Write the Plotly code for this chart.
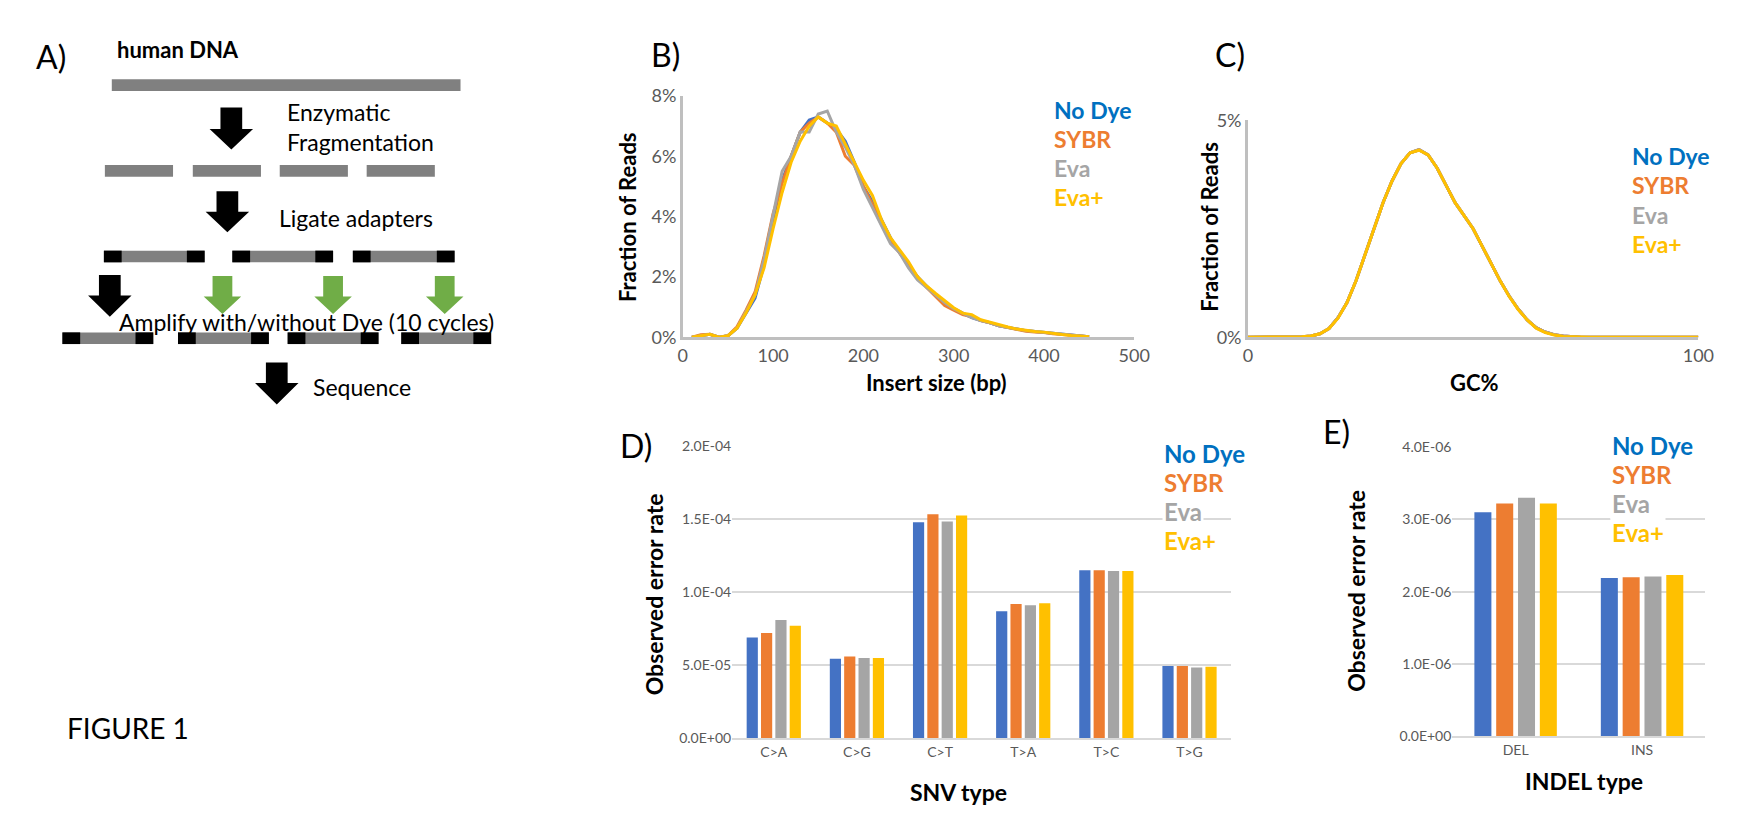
import plotly.graph_objects as go

# ---------------- data ----------------
insert_size = [10,20,30,40,50,60,70,80,90,100,110,120,130,140,150,160,170,180,190,200,210,220,230,240,250,
               260,270,280,290,300,310,320,330,340,350,360,370,380,390,400,410,420,430,440,450]
ins_nodye = [0,0.05,0.1,0,0.05,0.3,0.8,1.3,2.4,3.9,5.2,6.0,6.8,7.2,7.3,7.1,6.9,6.5,5.8,5.0,4.5,3.9,3.3,2.8,2.4,
             2.0,1.7,1.4,1.15,0.95,0.8,0.65,0.55,0.48,0.38,0.32,0.26,0.22,0.19,0.16,0.12,0.09,0.06,0.04,0.02]
ins_sybr  = [0,0.08,0.1,0,0.05,0.35,0.9,1.5,2.7,4.1,5.1,6.0,6.8,7.1,7.3,7.1,6.8,6.0,5.7,5.0,4.4,3.8,3.2,2.8,2.4,
             2.0,1.65,1.35,1.05,0.9,0.75,0.68,0.55,0.48,0.38,0.32,0.26,0.2,0.17,0.16,0.12,0.09,0.06,0.04,0.02]
ins_eva   = [0,0.05,0.1,0,0.05,0.3,0.85,1.4,2.6,4.1,5.5,6.0,6.8,6.8,7.4,7.5,6.8,6.3,5.7,4.9,4.3,3.7,3.1,2.8,2.3,
             1.9,1.65,1.4,1.15,0.95,0.8,0.65,0.55,0.48,0.38,0.32,0.26,0.22,0.19,0.16,0.12,0.09,0.06,0.04,0.02]
ins_evap  = [0,0.05,0.1,0,0.05,0.3,0.8,1.4,2.3,3.6,4.8,5.8,6.5,7.0,7.3,7.1,7.0,6.4,5.8,5.2,4.7,3.9,3.3,2.9,2.5,
             2.0,1.7,1.45,1.2,0.98,0.8,0.75,0.58,0.5,0.4,0.34,0.27,0.22,0.19,0.17,0.12,0.09,0.06,0.04,0.02]

gc_pct = [0,2,4,6,8,10,12,14,16,18,20,22,24,26,28,30,32,34,36,38,40,42,44,46,48,50,52,54,56,58,60,62,64,66,
          68,70,72,74,76,78,80,84,88,92,96,100]
gc_nodye = [0,0,0,0,0,0,0.01,0.03,0.08,0.2,0.45,0.8,1.3,1.9,2.5,3.1,3.6,4.0,4.25,4.32,4.2,3.9,3.5,3.1,2.8,
            2.5,2.1,1.7,1.3,0.95,0.65,0.4,0.22,0.12,0.06,0.03,0.01,0,0,0,0,0,0,0,0,0]
gc_sybr = list(gc_nodye)
gc_eva = list(gc_nodye)
gc_evap = [0,0,0,0,0,0,0.01,0.03,0.08,0.2,0.44,0.8,1.3,1.9,2.5,3.1,3.6,4.0,4.25,4.31,4.2,3.9,3.5,3.1,2.8,
           2.5,2.1,1.7,1.3,0.94,0.64,0.4,0.21,0.11,0.05,0.02,0.01,0,0,0,0,0,0,0,0,0]

snv_types = ["C>A", "C>G", "C>T", "T>A", "T>C", "T>G"]
snv_nodye = [6.9e-5, 5.45e-5, 14.8e-5, 8.7e-5, 11.5e-5, 4.95e-5]
snv_sybr  = [7.2e-5, 5.6e-5, 15.35e-5, 9.2e-5, 11.5e-5, 4.95e-5]
snv_eva   = [8.1e-5, 5.5e-5, 14.85e-5, 9.1e-5, 11.45e-5, 4.85e-5]
snv_evap  = [7.7e-5, 5.5e-5, 15.25e-5, 9.25e-5, 11.45e-5, 4.9e-5]

indel_types = ["DEL", "INS"]
indel_nodye = [3.1e-6, 2.19e-6]
indel_sybr  = [3.22e-6, 2.2e-6]
indel_eva   = [3.3e-6, 2.21e-6]
indel_evap  = [3.22e-6, 2.23e-6]

series_names = ["No Dye", "SYBR", "Eva", "Eva+"]
y_ticks_d = [0, 5e-5, 1e-4, 1.5e-4, 2e-4]
y_tick_labels_d = ["0.0E+00", "5.0E-05", "1.0E-04", "1.5E-04", "2.0E-04"]
y_ticks_e = [0, 1e-6, 2e-6, 3e-6, 4e-6]
y_tick_labels_e = ["0.0E+00", "1.0E-06", "2.0E-06", "3.0E-06", "4.0E-06"]

# ---------------- style ----------------
W, H = 1737.0, 820.0
def X(x): return x / W
def Y(y): return 1 - y / H

COL = ["#4472C4", "#ED7D31", "#A5A5A5", "#FFC000"]
LEG = ["#0070C0", "#ED7D31", "#A5A5A5", "#FFC000"]
FONT = "Lato"
TICK = "#595959"

fig = go.Figure()
for vals, c, n in zip([ins_nodye, ins_sybr, ins_eva, ins_evap], COL, series_names):
    fig.add_trace(go.Scatter(x=insert_size, y=[v / 100 for v in vals], mode="lines",
                             line=dict(color=c, width=3), name=n, xaxis="x", yaxis="y"))
for vals, c, n in zip([gc_nodye, gc_sybr, gc_eva, gc_evap], COL, series_names):
    fig.add_trace(go.Scatter(x=gc_pct, y=[v / 100 for v in vals], mode="lines",
                             line=dict(color=c, width=3), name=n, xaxis="x2", yaxis="y2"))
for vals, c, n in zip([snv_nodye, snv_sybr, snv_eva, snv_evap], COL, series_names):
    fig.add_trace(go.Bar(x=snv_types, y=vals, marker=dict(color=c, line=dict(width=0)),
                         name=n, xaxis="x3", yaxis="y3"))
for vals, c, n in zip([indel_nodye, indel_sybr, indel_eva, indel_evap], COL, series_names):
    fig.add_trace(go.Bar(x=indel_types, y=vals, marker=dict(color=c, line=dict(width=0)),
                         name=n, xaxis="x4", yaxis="y4"))

tickf = dict(family=FONT, size=18, color=TICK)
smallf = dict(family=FONT, size=14, color=TICK)
axline = dict(showline=True, linecolor="#BFBFBF", linewidth=2.5, showgrid=False, zeroline=False,
              ticks="", tickfont=tickf)

layout = dict(
    width=1737, height=820, margin=dict(l=0, r=0, t=0, b=0),
    paper_bgcolor="white", plot_bgcolor="white", showlegend=False,
    barmode="group", bargap=0.31, bargroupgap=0.22,
    xaxis=dict(domain=[X(678), X(1135)], range=[0, 500], dtick=100, **axline),
    yaxis=dict(domain=[Y(326), Y(78)], range=[0, 0.08], dtick=0.02, tickformat=".0%", **axline),
    xaxis2=dict(domain=[X(1250), X(1706)], range=[0, 100], tickvals=[0, 100], anchor="y2", **axline),
    yaxis2=dict(domain=[Y(326), Y(103)], range=[0, 0.05], tickvals=[0, 0.05], tickformat=".0%",
                anchor="x2", **axline),
    xaxis3=dict(domain=[X(728), X(1233)], anchor="y3", showline=True, linecolor="#D9D9D9", linewidth=2,
                showgrid=False, ticks="", tickfont=smallf),
    yaxis3=dict(domain=[Y(738), Y(438)], range=[0, 2e-4], tickvals=y_ticks_d, ticktext=y_tick_labels_d,
                anchor="x3", showgrid=True, gridcolor="#D9D9D9", gridwidth=2, zeroline=False,
                showline=False, ticks="", tickfont=smallf),
    xaxis4=dict(domain=[X(1457), X(1713)], anchor="y4", showline=True, linecolor="#D9D9D9", linewidth=2,
                showgrid=False, ticks="", tickfont=smallf),
    yaxis4=dict(domain=[Y(736), Y(439)], range=[0, 4e-6], tickvals=y_ticks_e, ticktext=y_tick_labels_e,
                anchor="x4", showgrid=True, gridcolor="#D9D9D9", gridwidth=2, zeroline=False,
                showline=False, ticks="", tickfont=smallf),
)
fig.update_layout(**layout)

ann = []
def txt(x, y, t, size, color="black", bold=False, xanchor="left", angle=0, bg=None):
    d = dict(x=X(x), y=Y(y), xref="paper", yref="paper", text=("<b>%s</b>" % t) if bold else t,
             showarrow=False, xanchor=xanchor, yanchor="middle", textangle=angle,
             font=dict(family=FONT, size=size, color=color))
    if bg:
        d["bgcolor"] = bg
    ann.append(d)

# panel letters
txt(38, 37, "A)", 32, xanchor="center"); txt(660, 35, "B)", 32, xanchor="center")
txt(1232, 35, "C)", 32, xanchor="center")
txt(631, 437, "D)", 32, xanchor="center"); txt(1340, 423, "E)", 32, xanchor="center")
txt(53, 728, "FIGURE 1", 28)

# axis titles
txt(622, 202, "Fraction of Reads", 22, bold=True, xanchor="center", angle=-90)
txt(935, 372, "Insert size (bp)", 22, bold=True, xanchor="center")
txt(1211, 212, "Fraction of Reads", 22, bold=True, xanchor="center", angle=-90)
txt(1479, 372, "GC%", 22, bold=True, xanchor="center")
txt(649, 590, "Observed error rate", 23, bold=True, xanchor="center", angle=-90)
txt(957, 793, "SNV type", 23, bold=True, xanchor="center")
txt(1360, 587, "Observed error rate", 23, bold=True, xanchor="center", angle=-90)
txt(1590, 782, "INDEL type", 23, bold=True, xanchor="center")

# legends
for i, (n, c) in enumerate(zip(series_names, LEG)):
    txt(1052, 92 + 30 * i, n, 23, color=c, bold=True)
    txt(1637, 140 + 30 * i, n, 23, color=c, bold=True)
    txt(1163, 445 + 30 * i, n, 24, color=c, bold=True, bg="white")
    txt(1617, 437 + 30 * i, n, 24, color=c, bold=True, bg="white")

# panel A texts
txt(103, 30, "human DNA", 22, bold=True)
txt(275, 95, "Enzymatic", 23); txt(275, 125, "Fragmentation", 23)
txt(267, 203, "Ligate adapters", 23)
txt(105, 310, "Amplify with/without Dye (10 cycles)", 23)
txt(302, 377, "Sequence", 23)
fig.update_layout(annotations=ann)

shapes = []
GRAY = "#808080"
def bar(x0, x1, y, h=12, color=GRAY):
    shapes.append(dict(type="rect", xref="paper", yref="paper", x0=X(x0), x1=X(x1),
                       y0=Y(y + h / 2), y1=Y(y - h / 2), fillcolor=color, line=dict(width=0)))
def frag(x0, x1, y):
    bar(x0, x1, y)
    bar(x0, x0 + 18, y, color="black"); bar(x1 - 18, x1, y, color="black")
def arrow(cx, y0, yh, y1, color, hw=22, sw=11):
    pts = [(cx - sw, y0), (cx + sw, y0), (cx + sw, yh), (cx + hw, yh), (cx, y1), (cx - hw, yh), (cx - sw, yh)]
    path = "M " + " L ".join("%f,%f" % (X(px), Y(py)) for px, py in pts) + " Z"
    shapes.append(dict(type="path", xref="paper", yref="paper", path=path, fillcolor=color,
                       line=dict(width=0)))

bar(100, 453, 67)
arrow(221, 90, 112, 133, "black")
for a, b in [(93, 162), (182, 251), (270, 339), (358, 427)]:
    bar(a, b, 155)
arrow(217, 176, 197, 218, "black")
for a, b in [(92, 194), (222, 324), (344, 447)]:
    frag(a, b, 243)
arrow(98, 262, 283, 305, "black")
for cx in [212, 324, 437]:
    arrow(cx, 263, 284, 302, "#70AD47", hw=19, sw=10)
for a, b in [(50, 142), (167, 259), (278, 370), (393, 484)]:
    frag(a, b, 327)
arrow(267, 352, 373, 395, "black")
fig.update_layout(shapes=shapes)

fig.write_html("out.html")
